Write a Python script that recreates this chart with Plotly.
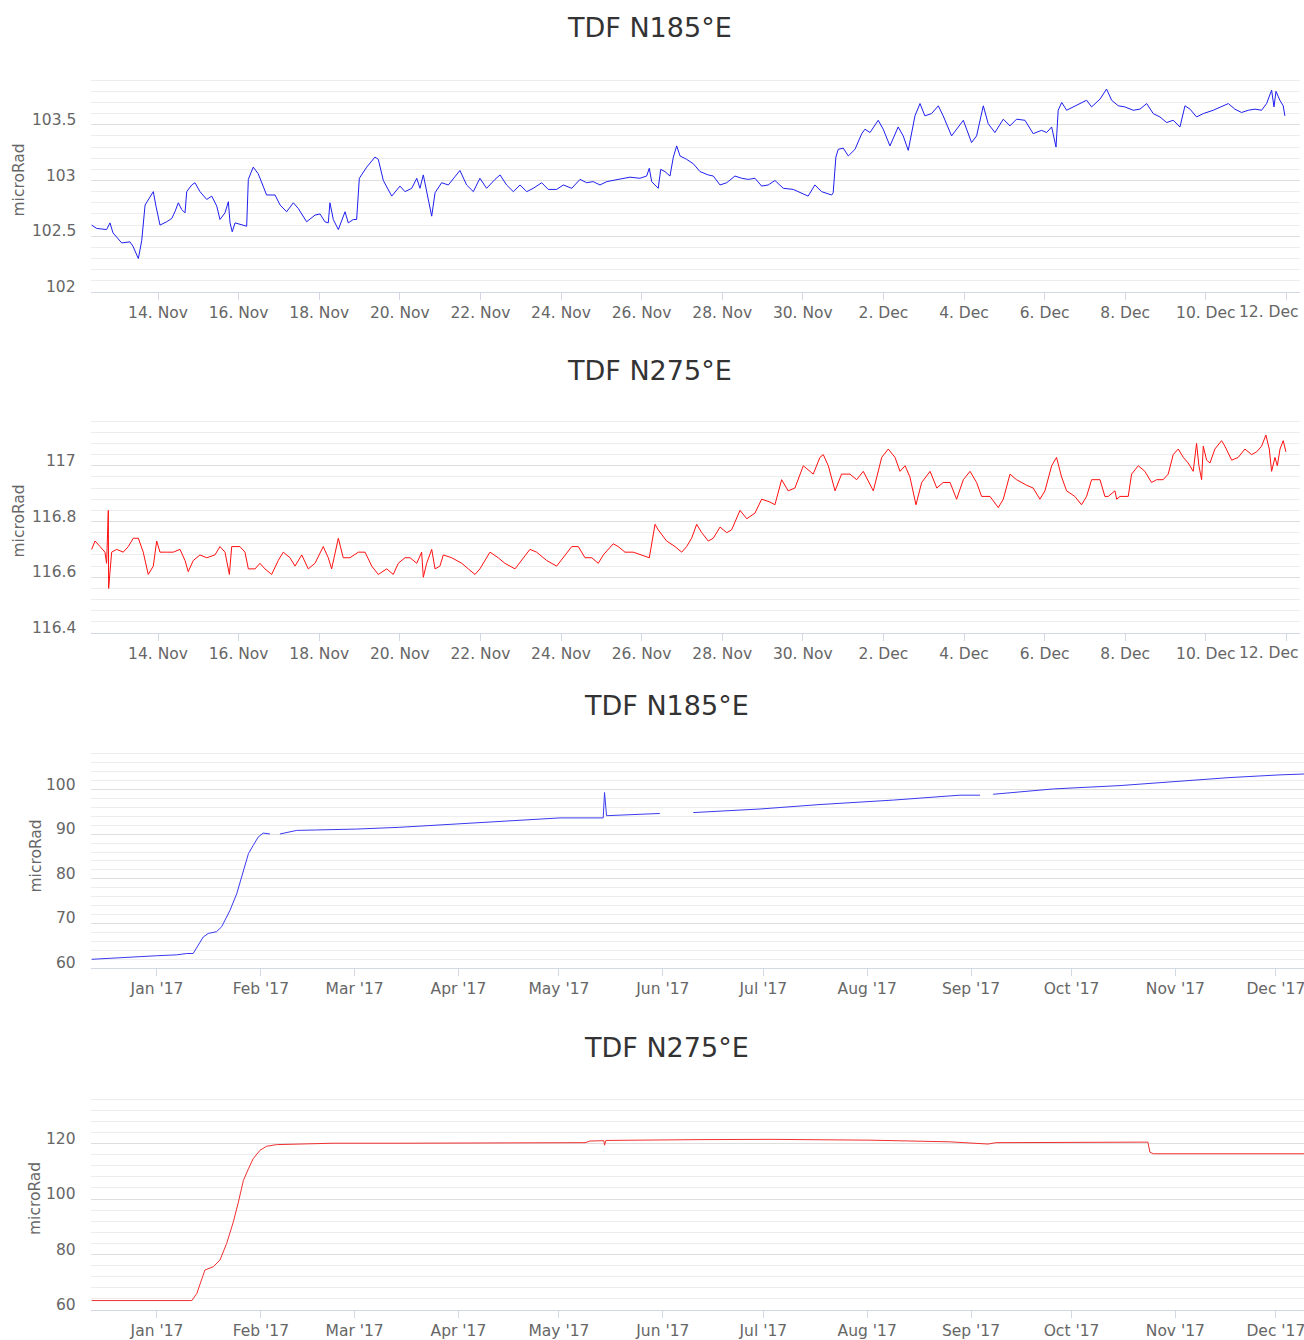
import pandas as pd
import plotly.graph_objects as go

# ---------------- data ----------------
short_start = "2017-11-12 00:00"

n185_short_hours = [
    8.5, 11.5, 17.4, 19.4, 21.2, 26.4, 31.3, 33.1, 36.3, 38.3, 40.3, 42.2, 45.2, 46.8, 49.2,
    53.2, 56.2, 58.1, 60.1, 62.1, 64.1, 65.1, 68.1, 70.0, 73.0, 77.0, 80.0, 83.0, 84.9, 87.9,
    89.9, 90.9, 92.2, 93.9, 100.8, 101.8, 104.7, 107.7, 110.7, 112.7, 117.7, 120.7, 124.6,
    128.6, 131.5, 136.5, 141.5, 144.5, 147.4, 149.4, 150.4, 152.4, 155.4, 157.4, 159.4, 161.3,
    164.3, 166.3, 167.9, 172.3, 177.2, 179.2, 182.2, 187.2, 192.1, 195.1, 199.1, 202.1, 204.0,
    206.0, 208.0, 211.0, 213.0, 216.9, 220.9, 227.8, 231.8, 235.8, 239.7, 243.7, 248.7, 251.7,
    255.6, 259.6, 263.6, 267.6, 271.5, 276.5, 280.4, 285.4, 289.4, 294.4, 299.3, 303.3, 307.2,
    311.2, 315.2, 319.1, 323.1, 329.1, 335.0, 339.0, 340.6, 342.0, 345.9, 347.4, 349.9, 352.9,
    354.9, 356.9, 358.9, 362.8, 366.8, 370.8, 375.7, 378.7, 382.7, 386.7, 391.6, 395.6, 399.5,
    403.5, 407.5, 411.4, 415.4, 420.4, 426.3, 430.3, 435.2, 439.2, 443.2, 449.2, 450.1, 451.7,
    453.1, 456.1, 459.1, 463.1, 467.1, 469.0, 472.0, 476.9, 479.9, 483.9, 488.8, 491.8, 494.8,
    498.8, 501.8, 504.7, 508.7, 512.7, 515.6, 520.6, 523.6, 527.6, 532.5, 535.5, 539.5, 542.4,
    546.4, 551.4, 555.4, 559.3, 564.3, 569.2, 574.2, 577.2, 580.2, 582.8, 584.1, 586.2, 589.1,
    593.1, 598.1, 601.0, 604.0, 609.0, 612.9, 615.9, 619.9, 623.8, 628.8, 632.8, 636.8, 640.7,
    644.7, 648.7, 652.6, 656.6, 659.6, 662.6, 666.5, 670.5, 676.4, 681.4, 685.4, 689.3, 693.3,
    697.3, 701.3, 705.2, 708.2, 711.2, 712.6, 713.8, 716.1, 718.1, 719.1,
]
n185_short_values = [
    102.60, 102.57, 102.56, 102.62, 102.53, 102.44, 102.45, 102.41, 102.30, 102.46, 102.78,
    102.83, 102.90, 102.77, 102.60, 102.63, 102.66, 102.72, 102.80, 102.74, 102.71, 102.90,
    102.96, 102.98, 102.90, 102.83, 102.86, 102.77, 102.65, 102.71, 102.81, 102.62, 102.54,
    102.62, 102.59, 103.01, 103.12, 103.06, 102.95, 102.87, 102.87, 102.78, 102.72, 102.80,
    102.75, 102.63, 102.69, 102.70, 102.63, 102.62, 102.80, 102.65, 102.56, 102.65, 102.72,
    102.62, 102.65, 102.65, 103.02, 103.12, 103.21, 103.19, 103.00, 102.86, 102.95, 102.90,
    102.93, 103.02, 102.93, 103.05, 102.89, 102.68, 102.89, 102.98, 102.96, 103.09, 102.96,
    102.90, 103.02, 102.93, 103.01, 103.05, 102.96, 102.90, 102.96, 102.90, 102.93, 102.98,
    102.92, 102.92, 102.96, 102.93, 103.01, 102.98, 102.99, 102.96, 102.99, 103.00, 103.01,
    103.03, 103.02, 103.04, 103.11, 102.99, 102.93, 103.10, 103.08, 103.04, 103.21, 103.31,
    103.22, 103.19, 103.15, 103.08, 103.05, 103.04, 102.96, 102.98, 103.04, 103.02, 103.01,
    103.02, 102.95, 102.96, 103.00, 102.93, 102.92, 102.89, 102.86, 102.96, 102.90, 102.87,
    102.89, 103.21, 103.28, 103.29, 103.22, 103.28, 103.42, 103.46, 103.43, 103.54, 103.46,
    103.31, 103.48, 103.40, 103.27, 103.58, 103.69, 103.58, 103.60, 103.67, 103.58, 103.40,
    103.46, 103.54, 103.34, 103.40, 103.67, 103.51, 103.43, 103.55, 103.49, 103.55, 103.54,
    103.42, 103.45, 103.43, 103.48, 103.30, 103.63, 103.70, 103.63, 103.66, 103.70, 103.72,
    103.66, 103.73, 103.82, 103.72, 103.67, 103.66, 103.63, 103.64, 103.69, 103.60, 103.57,
    103.52, 103.54, 103.48, 103.67, 103.64, 103.57, 103.60, 103.63, 103.66, 103.69, 103.64,
    103.61, 103.63, 103.64, 103.63, 103.69, 103.81, 103.66, 103.80, 103.72, 103.67, 103.58,
]

n275_short_hours = [
    8.5, 10.5, 13.5, 16.4, 17.4, 18.4, 18.6, 20.4, 23.4, 27.3, 30.3, 33.3, 36.3, 39.2, 42.2,
    45.2, 47.2, 49.2, 53.2, 57.1, 61.1, 64.1, 66.0, 69.0, 73.0, 77.0, 81.9, 84.9, 87.9, 90.5,
    91.9, 93.9, 96.8, 99.8, 101.8, 105.8, 108.7, 111.7, 115.7, 119.6, 122.6, 126.6, 129.6,
    133.6, 137.5, 141.5, 146.4, 149.4, 151.4, 155.4, 158.3, 162.3, 167.3, 171.3, 175.3, 179.2,
    184.2, 188.1, 191.1, 195.1, 198.1, 202.1, 205.0, 206.0, 208.0, 211.0, 213.0, 215.9, 217.9,
    222.9, 228.9, 232.8, 236.8, 239.7, 245.7, 250.6, 254.6, 260.6, 264.6, 269.5, 273.5, 279.5,
    285.4, 289.4, 294.4, 298.3, 302.3, 306.3, 310.2, 313.2, 319.1, 322.1, 326.1, 331.0, 336.0,
    340.6, 344.0, 345.9, 350.9, 355.9, 359.9, 362.8, 365.8, 368.8, 371.8, 375.7, 378.7, 382.7,
    386.7, 389.6, 394.6, 398.6, 403.5, 407.5, 412.4, 415.4, 419.4, 423.3, 427.3, 432.3, 438.2,
    442.2, 444.2, 447.2, 451.2, 455.1, 460.1, 464.1, 468.0, 474.0, 479.0, 482.9, 486.9, 489.9,
    492.9, 495.8, 499.4, 502.8, 507.8, 511.8, 515.6, 519.7, 523.6, 527.6, 531.6, 535.5, 538.5,
    543.5, 548.4, 551.4, 555.4, 559.3, 565.3, 569.2, 573.2, 576.2, 580.2, 583.1, 586.1, 589.1,
    594.0, 598.0, 601.0, 604.0, 609.0, 611.9, 613.9, 617.9, 618.9, 620.9, 625.8, 627.8, 631.8,
    635.7, 639.7, 642.7, 646.6, 649.6, 652.6, 655.6, 658.6, 661.5, 664.5, 666.5, 667.9, 669.5,
    670.5, 672.5, 674.5, 677.4, 681.4, 683.4, 687.4, 691.3, 695.3, 699.3, 702.3, 705.2, 707.8,
    709.8, 711.2, 713.2, 714.6, 716.2, 718.1, 719.7,
]
n275_short_values = [
    116.70, 116.73, 116.71, 116.69, 116.65, 116.84, 116.56, 116.69, 116.70, 116.69, 116.71,
    116.74, 116.74, 116.69, 116.61, 116.64, 116.73, 116.69, 116.69, 116.69, 116.70, 116.66,
    116.62, 116.66, 116.68, 116.67, 116.68, 116.71, 116.69, 116.61, 116.71, 116.71, 116.71,
    116.69, 116.63, 116.63, 116.65, 116.63, 116.61, 116.66, 116.69, 116.67, 116.64, 116.68,
    116.63, 116.65, 116.71, 116.67, 116.63, 116.74, 116.67, 116.67, 116.69, 116.69, 116.64,
    116.61, 116.63, 116.61, 116.65, 116.67, 116.67, 116.65, 116.69, 116.60, 116.65, 116.70,
    116.63, 116.64, 116.68, 116.67, 116.65, 116.63, 116.61, 116.63, 116.69, 116.67, 116.65,
    116.63, 116.66, 116.70, 116.69, 116.66, 116.64, 116.67, 116.71, 116.71, 116.67, 116.67,
    116.65, 116.68, 116.72, 116.71, 116.69, 116.69, 116.68, 116.67, 116.79, 116.77, 116.73,
    116.71, 116.69, 116.71, 116.74, 116.79, 116.76, 116.73, 116.74, 116.78, 116.76, 116.77,
    116.84, 116.81, 116.83, 116.88, 116.87, 116.86, 116.95, 116.91, 116.92, 117.00, 116.97,
    117.03, 117.04, 117.00, 116.91, 116.97, 116.97, 116.95, 116.98, 116.91, 117.03, 117.06,
    117.03, 116.98, 117.00, 116.96, 116.86, 116.94, 116.98, 116.92, 116.94, 116.94, 116.88,
    116.95, 116.98, 116.94, 116.89, 116.89, 116.85, 116.88, 116.97, 116.95, 116.93, 116.92,
    116.88, 116.91, 117.00, 117.03, 116.96, 116.91, 116.89, 116.86, 116.89, 116.95, 116.95,
    116.89, 116.89, 116.91, 116.88, 116.89, 116.89, 116.97, 117.00, 116.98, 116.94, 116.95,
    116.95, 116.97, 117.04, 117.06, 117.03, 117.01, 116.98, 117.08, 117.00, 116.95, 117.07,
    117.02, 117.01, 117.06, 117.09, 117.07, 117.02, 117.03, 117.06, 117.04, 117.05, 117.07,
    117.11, 117.06, 116.98, 117.03, 117.00, 117.06, 117.09, 117.05,
]

long_start = "2017-01-01"

n185_long_days = [
    -19.5, -7.1, -0.1, 5.9, 8.9, 10.8, 12.3, 13.8, 15.3, 17.8, 19.3, 21.8, 23.8, 25.3, 26.3,
    27.3, 28.7, 30.2, 31.7, 33.7, 35.2, 36.7, 41.7, 47.7, 59.6, 72.5, 90.4, 108.4, 120.3,
    133.2, 133.6, 134.2, 142.2, 150.1, 155.0, 160.1, 180.0, 197.9, 219.8, 239.7, 245.7, 247.6,
    249.6, 267.6, 287.5, 305.4, 320.3, 335.2, 342.4,
]
n185_long_values = [
    61.95, 62.55, 62.75, 62.95, 63.25, 63.25, 64.95, 66.95, 67.75, 68.15, 69.25, 72.95, 76.65,
    80.35, 83.35, 85.65, 87.45, 89.35, 90.25, 90.05, None, 90.05, 90.85, 90.95, 91.15, 91.55,
    92.35, 93.05, 93.65, 93.65, 99.35, 94.15, 94.35, 94.65, None, 94.85, 95.65, 96.65, 97.65,
    98.75, 98.75, None, 98.95, 100.15, 100.9, 101.9, 102.7, 103.3, 103.5,
]

n275_long_days = [
    -19.5, 10.4, 11.9, 13.4, 14.3, 16.8, 18.8, 20.8, 22.8, 24.3, 25.8, 27.3, 28.7, 30.7, 32.7,
    35.7, 42.7, 52.6, 72.5, 102.4, 127.8, 129.3, 133.4, 133.6, 134.0, 162.1, 183.0, 212.8,
    236.7, 248.1, 250.4, 295.8, 296.4, 297.4, 342.4,
]
n275_long_values = [
    63.4, 63.4, 66.0, 71.4, 74.4, 75.6, 78.0, 84.0, 91.8, 98.9, 106.7, 110.9, 114.5, 117.5,
    119.0, 119.6, 119.9, 120.1, 120.1, 120.2, 120.3, 120.9, 121.0, 119.4, 121.1, 121.4, 121.5,
    121.2, 120.6, 119.8, 120.3, 120.5, 116.9, 116.3, 116.3,
]

short_tick_dates = [
    "2017-11-14", "2017-11-16", "2017-11-18", "2017-11-20", "2017-11-22", "2017-11-24",
    "2017-11-26", "2017-11-28", "2017-11-30", "2017-12-02", "2017-12-04", "2017-12-06",
    "2017-12-08", "2017-12-10", "2017-12-12",
]
short_tick_labels = [
    "14. Nov", "16. Nov", "18. Nov", "20. Nov", "22. Nov", "24. Nov", "26. Nov", "28. Nov",
    "30. Nov", "2. Dec", "4. Dec", "6. Dec", "8. Dec", "10. Dec", "12. Dec",
]
long_tick_dates = [
    "2017-01-01", "2017-02-01", "2017-03-01", "2017-04-01", "2017-05-01", "2017-06-01",
    "2017-07-01", "2017-08-01", "2017-09-01", "2017-10-01", "2017-11-01", "2017-12-01",
]
long_tick_labels = [
    "Jan '17", "Feb '17", "Mar '17", "Apr '17", "May '17", "Jun '17", "Jul '17", "Aug '17",
    "Sep '17", "Oct '17", "Nov '17", "Dec '17",
]

panel_titles = ["TDF N185°E", "TDF N275°E", "TDF N185°E", "TDF N275°E"]
y_axis_title = "microRad"

y_tick_values = [
    [102, 102.5, 103, 103.5],
    [116.4, 116.6, 116.8, 117],
    [60, 70, 80, 90, 100],
    [60, 80, 100, 120],
]
y_tick_labels = [
    ["102", "102.5", "103", "103.5"],
    ["116.4", "116.6", "116.8", "117"],
    ["60", "70", "80", "90", "100"],
    ["60", "80", "100", "120"],
]
y_ranges = [[102, 104], [116.4, 117.2], [60, 110], [60, 140]]
y_minor_steps = [0.1, 0.04, 2, 4]

# ---------------- build ----------------
W, H = 1304, 1340
t_short = pd.Timestamp(short_start)
t_long = pd.Timestamp(long_start)

x1 = t_short + pd.to_timedelta(n185_short_hours, unit="h")
x2 = t_short + pd.to_timedelta(n275_short_hours, unit="h")
x3 = t_long + pd.to_timedelta(n185_long_days, unit="D")
x4 = t_long + pd.to_timedelta(n275_long_days, unit="D")

short_range = [t_short + pd.Timedelta(hours=8.1), t_short + pd.Timedelta(hours=728.1)]
long_range = [t_long - pd.Timedelta(days=19.7), t_long + pd.Timedelta(days=342.4)]

BLUE = "#1f1fef"
RED = "#ff1010"

fig = go.Figure()
fig.add_trace(go.Scatter(x=x1, y=n185_short_values, mode="lines",
                         line=dict(color=BLUE, width=1), xaxis="x", yaxis="y"))
fig.add_trace(go.Scatter(x=x2, y=n275_short_values, mode="lines",
                         line=dict(color=RED, width=1), xaxis="x2", yaxis="y2"))
fig.add_trace(go.Scatter(x=x3, y=n185_long_values, mode="lines", connectgaps=False,
                         line=dict(color="#3a3af0", width=1), xaxis="x3", yaxis="y3"))
fig.add_trace(go.Scatter(x=x4, y=n275_long_values, mode="lines",
                         line=dict(color="#f03030", width=1), xaxis="x4", yaxis="y4"))

# pixel layout of plot areas: (top, bottom, right)
areas = [(69, 292, 1300), (410, 633, 1300), (745, 968, 1304), (1088, 1310, 1304)]
left = 91
title_pos = [(649, 28), (649, 370), (666, 705), (666, 1047)]
ytitle_x = [18, 18, 35, 35]

font_family = "DejaVu Sans"
tick_font = dict(family=font_family, size=15.5, color="#666666")

layout = dict(
    width=W, height=H, margin=dict(l=0, r=0, t=0, b=0),
    paper_bgcolor="white", plot_bgcolor="white", showlegend=False,
)
annotations = []
for i in range(4):
    top, bottom, right = areas[i]
    xs = "" if i == 0 else str(i + 1)
    is_short = i < 2
    if is_short:
        # last label is pulled inside the chart edge (as in the reference)
        xt_text = short_tick_labels[:-1] + [""]
        annotations.append(dict(
            x=1301 / W, xref="paper", xanchor="right",
            y=1 - (bottom + 20) / H, yref="paper", yanchor="middle",
            text=short_tick_labels[-1], showarrow=False, font=tick_font,
        ))
    else:
        xt_text = long_tick_labels
    layout["xaxis" + xs] = dict(
        domain=[left / W, right / W],
        anchor="y" + xs,
        type="date",
        range=short_range if is_short else long_range,
        tickmode="array",
        tickvals=pd.to_datetime(short_tick_dates if is_short else long_tick_dates),
        ticktext=xt_text,
        showgrid=False, zeroline=False,
        showline=True, linecolor="#d3d9e4", linewidth=1,
        ticks="outside", ticklen=7, tickcolor="#d3d9e4",
        tickfont=tick_font, ticklabelstandoff=-1,
        ticklabeloverflow="allow",
        automargin=False, fixedrange=True,
    )
    rng = y_ranges[i]
    layout["yaxis" + xs] = dict(
        domain=[1 - bottom / H, 1 - top / H],
        anchor="x" + xs,
        range=rng,
        tickmode="array",
        tickvals=y_tick_values[i] + [rng[1]],
        ticktext=[""] * (len(y_tick_values[i]) + 1),
        showticklabels=False,
        showgrid=True, gridcolor="#dedede", gridwidth=1,
        minor=dict(tick0=rng[0], dtick=y_minor_steps[i], showgrid=True,
                   gridcolor="#ededed", gridwidth=1),
        zeroline=False, showline=False, ticks="",
        automargin=False, fixedrange=True,
    )
    # y tick labels (sit slightly above their grid lines, as in the reference)
    for v, lab in zip(y_tick_values[i], y_tick_labels[i]):
        annotations.append(dict(
            x=78 / W, xref="paper", xanchor="right",
            y=v, yref="y" + xs, yanchor="middle", yshift=5,
            text=lab, showarrow=False, font=tick_font,
        ))
    tx, ty = title_pos[i]
    annotations.append(dict(
        x=tx / W, y=1 - ty / H, xref="paper", yref="paper",
        xanchor="center", yanchor="middle", showarrow=False,
        text=panel_titles[i],
        font=dict(family=font_family, size=27, color="#333333"),
    ))
    annotations.append(dict(
        x=ytitle_x[i] / W, y=1 - (top + bottom) / 2 / H, xref="paper", yref="paper",
        xanchor="center", yanchor="middle", showarrow=False, textangle=-90,
        text=y_axis_title,
        font=dict(family=font_family, size=15.5, color="#666666"),
    ))

layout["annotations"] = annotations
fig.update_layout(**layout)

fig.write_html(
    "out.html",
    config={"displayModeBar": False},
    post_script="document.body.style.margin='0px';document.body.style.overflow='hidden';",
)
